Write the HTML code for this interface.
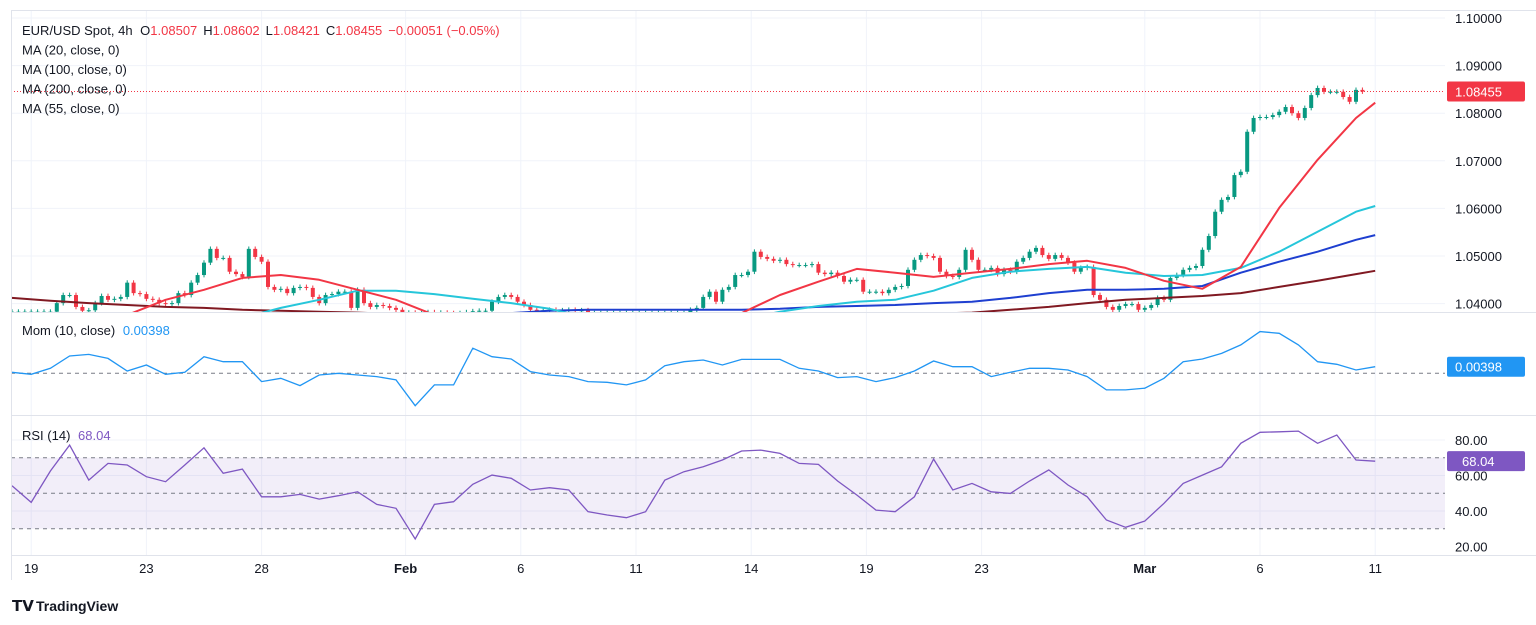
<!DOCTYPE html>
<html><head><meta charset="utf-8"><style>
html,body{margin:0;padding:0;background:#fff;width:1536px;height:625px;overflow:hidden;font-family:"Liberation Sans",sans-serif;}
svg text{font-family:"Liberation Sans",sans-serif;}
</style></head><body>
<svg id="chart" width="1536" height="625" viewBox="0 0 1536 625" xmlns="http://www.w3.org/2000/svg">
<defs>
<clipPath id="mainClip"><rect x="11" y="11" width="1434" height="301"/></clipPath>
<clipPath id="momClip"><rect x="11" y="313" width="1434" height="102"/></clipPath>
<clipPath id="rsiClip"><rect x="11" y="416" width="1434" height="139"/></clipPath>
</defs>
<rect x="0" y="0" width="1536" height="625" fill="#fff"/>
<g id="grid"></g>
<rect x="11" y="457.7" width="1434" height="71" fill="rgba(126,87,194,0.1)"/>
<g id="main" clip-path="url(#mainClip)"></g>
<g id="mom" clip-path="url(#momClip)"></g>
<g id="rsi" clip-path="url(#rsiClip)"></g>
<g id="axes"></g>
<line x1="11" y1="312.5" x2="1536" y2="312.5" stroke="#e0e3eb" stroke-width="1"/>
<line x1="11" y1="415.5" x2="1536" y2="415.5" stroke="#e0e3eb" stroke-width="1"/>
<line x1="11" y1="555.5" x2="1536" y2="555.5" stroke="#e0e3eb" stroke-width="1"/>
<line x1="11" y1="10.5" x2="1536" y2="10.5" stroke="#e0e3eb"/>
<line x1="11.5" y1="10" x2="11.5" y2="580" stroke="#e0e3eb"/>
<g font-size="13" fill="#131722">
<text x="22" y="35">EUR/USD Spot, 4h <tspan dx="4">O</tspan><tspan fill="#f23645">1.08507</tspan><tspan dx="6">H</tspan><tspan fill="#f23645">1.08602</tspan><tspan dx="6">L</tspan><tspan fill="#f23645">1.08421</tspan><tspan dx="6">C</tspan><tspan fill="#f23645">1.08455</tspan><tspan dx="6" fill="#f23645">−0.00051 (−0.05%)</tspan></text>
<text x="22" y="54.5">MA (20, close, 0)</text>
<text x="22" y="74">MA (100, close, 0)</text>
<text x="22" y="93.5">MA (200, close, 0)</text>
<text x="22" y="113">MA (55, close, 0)</text>
<text x="22" y="335">Mom (10, close) <tspan dx="4" fill="#2196f3">0.00398</tspan></text>
<text x="22" y="440">RSI (14) <tspan dx="4" fill="#7e57c2">68.04</tspan></text>
</g>
<g>
<text x="12" y="611" font-size="15" font-weight="bold" fill="#131722">𝗧𝗩</text>
<text x="36" y="611" font-size="14" font-weight="bold" fill="#131722">TradingView</text>
</g>
</svg>
<script>
const closes=[1.0383,1.0383,1.0383,1.0383,1.0383,1.0383,1.0383,1.0401,1.0418,1.0418,1.0393,1.0385,1.0386,1.0401,1.0416,1.0408,1.0410,1.0414,1.0444,1.0422,1.0420,1.0410,1.0408,1.0401,1.0399,1.0401,1.0422,1.0418,1.0444,1.0460,1.0486,1.0515,1.0496,1.0496,1.0467,1.0462,1.0456,1.0515,1.0498,1.0488,1.0435,1.0429,1.0431,1.0422,1.0433,1.0435,1.0433,1.0414,1.0401,1.0418,1.0420,1.0425,1.0425,1.0391,1.0429,1.0401,1.0393,1.0397,1.0395,1.0391,1.0387,
1.0380,1.0381,1.0379,1.0380,1.0382,1.0380,1.0381,1.0380,1.0379,1.0380,1.0382,1.0384,1.0385,1.0385,
1.0404,1.0414,1.0418,1.0414,1.0404,1.0397,1.0387,
1.0386,1.0386,1.0387,1.0386,1.0386,1.0387,1.0386,1.0386,1.0380,1.0380,1.0380,1.0380,1.0380,1.0380,1.0380,1.0380,1.0380,1.0380,1.0380,1.0380,1.0380,1.0380,1.0380,1.0380,
1.0387,1.0391,1.0414,1.0425,1.0404,1.0429,1.0435,1.0460,1.0460,1.0467,1.0509,1.0498,1.0494,1.0490,1.0492,1.0483,1.0481,1.0481,1.0481,1.0483,1.0465,1.0462,1.0465,1.0458,1.0446,1.0450,1.0450,1.0425,1.0425,1.0425,1.0422,1.0429,1.0435,1.0437,1.0471,1.0492,1.0502,1.0500,1.0496,1.0467,1.0458,1.0456,1.0471,1.0513,1.0492,1.0471,1.0471,1.0475,1.0462,1.0471,1.0467,1.0488,1.0496,1.0509,1.0517,1.0502,1.0494,1.0502,1.0496,1.0486,1.0467,1.0475,1.0477,1.0418,1.0408,1.0393,1.0387,1.0395,1.0399,1.0399,1.0387,1.0391,1.0397,1.0412,1.0408,1.0454,1.0460,1.0471,1.0475,1.0479,1.0513,1.0542,1.0593,1.0618,1.0624,1.0670,1.0677,1.0761,1.0790,1.0792,1.0792,1.0796,1.0803,1.0813,1.0800,1.0790,1.0811,1.0838,1.0853,1.0845,1.0845,1.0845,1.0834,1.0824,1.0849,1.08455];
const ma20=[1.0345,1.0355,1.0366,1.0376,1.0408,1.0429,1.0454,1.0460,1.0450,1.0429,1.0408,1.0376,1.0355,1.0345,1.0345,1.0345,1.0345,1.0355,1.0366,1.0380,1.0418,1.0446,1.0473,1.0465,1.0456,1.0465,1.0473,1.0483,1.0490,1.0475,1.0448,1.0431,1.0477,1.0601,1.0702,1.0790,1.0822];
const ma55=[1.0345,1.0345,1.0345,1.0345,1.0345,1.0355,1.0370,1.0391,1.0408,1.0427,1.0427,1.0420,1.0410,1.0401,1.0389,1.0370,1.0355,1.0355,1.0355,1.0366,1.0383,1.0395,1.0404,1.0408,1.0427,1.0454,1.0467,1.0473,1.0477,1.0465,1.0458,1.0460,1.0475,1.0509,1.0551,1.0593,1.0605];
const ma100=[1.0370,1.0370,1.0370,1.0370,1.0370,1.0370,1.0370,1.0370,1.0370,1.0370,1.0370,1.0372,1.0376,1.0380,1.0385,1.0387,1.0387,1.0387,1.0387,1.0387,1.0389,1.0393,1.0395,1.0397,1.0401,1.0404,1.0412,1.0422,1.0429,1.0429,1.0431,1.0437,1.0465,1.0488,1.0509,1.0534,1.0544];
const ma200=[1.0412,1.0406,1.0401,1.0397,1.0393,1.0391,1.0387,1.0385,1.0383,1.0381,1.0378,1.0376,1.0376,1.0376,1.0376,1.0376,1.0376,1.0376,1.0376,1.0376,1.0376,1.0376,1.0376,1.0377,1.0379,1.0381,1.0387,1.0393,1.0401,1.0408,1.0412,1.0416,1.0422,1.0435,1.0448,1.0462,1.0469];
const momVals=[0.0006,-0.0006,0.0030,0.0104,0.0114,0.0090,0.0014,0.0050,-0.0006,0.0006,0.0100,0.0070,0.0070,-0.0050,-0.0030,-0.0074,-0.0010,0,-0.0010,-0.0020,-0.0040,-0.0195,-0.0070,-0.0070,0.0151,0.0100,0.0086,0.0010,-0.0010,-0.0020,-0.0050,-0.0054,-0.0070,-0.0040,0.0046,0.0070,
0.0080,0.0050,0.0084,0.0084,0.0084,0.0030,0.0014,-0.0026,-0.0020,-0.0050,-0.0026,0.0014,0.0074,0.0040,0.0040,-0.0020,0.0006,0.0030,0.0030,0.0020,-0.0020,-0.0100,-0.0100,-0.0090,-0.0030,0.0070,0.0086,0.0120,0.0171,0.0251,0.0241,0.0171,0.0070,0.0054,0.0020,0.00398];
const rsiVals=[54.2,44.8,62.5,77.1,57.4,66.8,65.9,59.3,56.5,65.9,75.6,61.2,63.6,48.0,48.0,49.3,46.7,48.6,50.8,43.7,41.5,24.2,43.7,45.2,55.0,60.2,58.4,51.8,53.1,51.8,39.6,37.7,36.2,39.6,57.4,62.1,
64.9,68.7,73.8,74.3,72.4,66.8,66.2,56.9,49.0,40.5,39.6,48.0,69.2,51.8,55.5,50.8,49.9,56.9,63.1,54.6,48.0,34.9,30.8,34.3,44.3,55.5,60.2,64.9,78.1,84.3,84.6,85.0,78.1,82.8,68.7,68.04];
const dateLabels=["19","23","28","Feb","6","11","14","19","23","Mar","6","11"];
const dateIdx=[3,21,39,61.5,79.5,97.5,115.5,133.5,151.5,177,195,213];
const priceTicks=[1.10,1.09,1.08,1.07,1.06,1.05,1.04];
const rsiTicks=[80,60,40,20];
const lastPrice=1.08455;

const NS="http://www.w3.org/2000/svg";
function mk(tag,attrs,parent){const e=document.createElementNS(NS,tag);for(const k in attrs)e.setAttribute(k,attrs[k]);parent.appendChild(e);return e;}
const xOf=i=>12+i*6.4;
const yP=p=>18+(1.10-p)*4760;
const yM=v=>373.3-v*1660;
const yR=v=>457.7-(v-70)*1.775;
const grid=document.getElementById('grid'),main=document.getElementById('main'),mom=document.getElementById('mom'),rsi=document.getElementById('rsi'),axes=document.getElementById('axes');

// grid
priceTicks.forEach(p=>{const l=mk('line',{x1:11,x2:1445,y1:yP(p),y2:yP(p),stroke:'#f0f3fa'},grid);


const t=mk('text',{x:1455,y:yP(p)+5,'font-size':13,fill:'#131722'},axes);t.textContent=p.toFixed(5);

});
[80,60,40].forEach(v=>{const l=mk('line',{x1:11,x2:1445,y1:yR(v),y2:yR(v),stroke:'#f0f3fa'},grid);

});
dateIdx.forEach((d,k)=>{const x=xOf(d);const l=mk('line',{x1:x,x2:x,y1:11,y2:555,stroke:'#f0f3fa'},grid);


const t=mk('text',{x:x,y:573,'font-size':13,fill:'#131722','text-anchor':'middle','font-weight':(dateLabels[k]==='Feb'||dateLabels[k]==='Mar')?'bold':'normal'},axes);t.textContent=dateLabels[k];

});
rsiTicks.forEach(v=>{const t=mk('text',{x:1455,y:yR(v)+5,'font-size':13,fill:'#131722'},axes);t.textContent=v.toFixed(2);

});

// candles
closes.forEach((c,i)=>{const o=i>0?closes[i-1]:c;const up=c>=o;const col=up?'#089981':'#f23645';const x=xOf(i);
const hi=Math.max(o,c)+0.0005,lo=Math.min(o,c)-0.0005;
const w=mk('line',{x1:x,x2:x,y1:yP(hi),y2:yP(lo),stroke:col,'stroke-width':1},main);


const top=yP(Math.max(o,c)),h=Math.max(1,yP(Math.min(o,c))-top);
const b=mk('rect',{x:x-2,y:top,width:4,height:h,fill:col},main);

});

// MAs
function maLine(arr,color,name){const pts=arr.map((v,k)=>{const i=k<36?k*6:213;return xOf(i).toFixed(1)+','+yP(v).toFixed(1);}).join(' ');
const pl=mk('polyline',{points:pts,fill:'none',stroke:color,'stroke-width':2,'stroke-linejoin':'round'},main);

}
maLine(ma200,'#801922','ma200-line');
maLine(ma100,'#1e3fd0','ma100-line');
maLine(ma55,'#26c6da','ma55-line');
maLine(ma20,'#f23645','ma20-line');

// last price line
const lp=mk('line',{x1:11,x2:1445,y1:yP(lastPrice),y2:yP(lastPrice),stroke:'#f23645','stroke-dasharray':'1 2'},axes);


const lpb=mk('rect',{x:1447,y:yP(lastPrice)-10,width:78,height:20,rx:2,fill:'#f23645'},axes);


const lpt=mk('text',{x:1455,y:yP(lastPrice)+5,'font-size':13,fill:'#fff'},axes);lpt.textContent=lastPrice.toFixed(5);



// Mom
const mz=mk('line',{x1:11,x2:1445,y1:yM(0),y2:yM(0),stroke:'#787b86','stroke-dasharray':'4 4'},mom);


const mpl=mk('polyline',{points:momVals.map((v,k)=>xOf(k*3).toFixed(1)+','+yM(v).toFixed(1)).join(' '),fill:'none',stroke:'#2196f3','stroke-width':1.3},mom);


const mlast=momVals[momVals.length-1];
const mb=mk('rect',{x:1447,y:yM(mlast)-10,width:78,height:20,rx:2,fill:'#2196f3'},axes);


const mt=mk('text',{x:1455,y:yM(mlast)+5,'font-size':13,fill:'#fff'},axes);mt.textContent=mlast.toFixed(5);



// RSI
[70,50,30].forEach(v=>{const l=mk('line',{x1:11,x2:1445,y1:yR(v),y2:yR(v),stroke:'#787b86','stroke-dasharray':'4 4'},rsi);

});
const rpl=mk('polyline',{points:rsiVals.map((v,k)=>xOf(k*3).toFixed(1)+','+yR(v).toFixed(1)).join(' '),fill:'none',stroke:'#7e57c2','stroke-width':1.3},rsi);


const rlast=rsiVals[rsiVals.length-1];
const rb=mk('rect',{x:1447,y:yR(rlast)-10,width:78,height:20,rx:2,fill:'#7e57c2'},axes);


const rt=mk('text',{x:1462,y:yR(rlast)+5,'font-size':13,fill:'#fff'},axes);rt.textContent=rlast.toFixed(2);


</script>
</body></html>
